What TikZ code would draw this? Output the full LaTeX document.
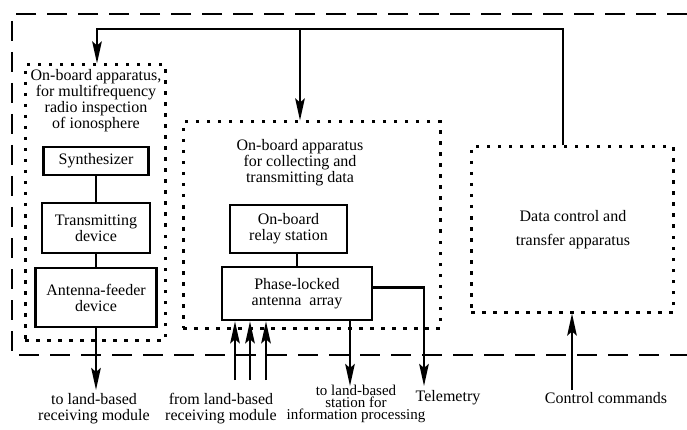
\documentclass[tikz,border=0pt]{standalone}
\usepackage{fontspec}
\setmainfont{Liberation Serif}
\usetikzlibrary{positioning, arrows.meta}

\begin{document}
\begin{tikzpicture}[x=1pt, y=-1pt, >={Stealth[length=22pt, width=9.5pt, inset=4pt]}]
    \tikzstyle{dev}=[draw, rectangle, line width=2.6pt, align=center, inner sep=0pt, font=\fontsize{16}{16}\selectfont];
    \tikzstyle{grp}=[draw, rectangle, line width=3pt, dash pattern=on 3.5pt off 7.5pt, inner sep=0pt];
    \tikzstyle{txt}=[align=center, inner sep=0pt, font=\fontsize{16}{16}\selectfont];
    \tikzstyle{lbl}=[align=center, inner sep=0pt, font=\fontsize{16}{16.5}\selectfont];
    \tikzstyle{wire}=[line width=2.6pt];
    \useasboundingbox (0,0) rectangle (687,430);

    % outer frame
    \draw[line width=2.8pt, dash pattern=on 20pt off 11pt] (687,14) -- (12,14) -- (12,355) -- (687,355);

    % groups
    \node[grp, minimum width=140pt, minimum height=275pt] (radio) at (95,202.5) {};
    \node[txt] (radiot) at (96,101) {On-board apparatus,\\for multifrequency\\radio inspection\\of ionosphere};
    \node[grp, minimum width=257pt, minimum height=206pt] (coll) at (311.5,225) {};
    \node[txt] (collt) at (300,163) {On-board apparatus\\for collecting and\\transmitting data};
    \node[grp, minimum width=202pt, minimum height=165pt] (ctrl) at (572,229.5) {};
    \node[txt] (ctrlt) at (573,230) {Data control and\\[8pt]transfer apparatus};

    % devices
    \node[dev, minimum width=105pt, minimum height=28pt] (synth) at (96,161) {Synthesizer};
    \node[dev, minimum width=108pt, minimum height=50pt] (trans) at (96,228) {Transmitting\\device};
    \node[dev, minimum width=121pt, minimum height=59pt] (feed) at (96,297.5) {Antenna-feeder\\device};
    \node[dev, minimum width=117pt, minimum height=48pt] (relay) at (288.5,229) {On-board\\relay station};
    \node[dev, minimum width=150pt, minimum height=53pt] (phase) at (297,293.5) {Phase-locked\\antenna~~array};

    % labels
    \node[lbl] (l1) at (94,408.5) {to land-based\\receiving module};
    \node[lbl] (l2) at (221,408.5) {from land-based\\receiving module};
    \node[lbl, font=\fontsize{15}{12}\selectfont] (l3) at (356,404) {to land-based\\station for\\information processing};
    \node[lbl] (l4) at (448,398) {Telemetry};
    \node[lbl] (l5) at (606,398) {Control commands};

    \coordinate (fb) at (563,29);
    \coordinate (br) at (300,29);
    \coordinate (o1) at (96,390);
    \coordinate (i1) at (235,380);
    \coordinate (i2) at (250,380);
    \coordinate (i3) at (266,380);
    \coordinate (o2) at (350,386);
    \coordinate (o3) at (424,386);
    \coordinate (cin) at (572,390);

    \path[wire]
    (synth) edge (trans)
    (trans) edge (feed)
    (phase.north) edge (phase.north |- relay.south);

    \draw[wire, ->] (ctrl.north -| fb) -- (fb) -| ([xshift=2pt]radio.north);
    \draw[wire, ->] (br) -- (br |- coll.north);
    \draw[wire, ->] (feed) -- (o1);
    \draw[wire, ->] (i1) -- (i1 |- phase.south);
    \draw[wire, ->] (i2) -- (i2 |- phase.south);
    \draw[wire, ->] (i3) -- (i3 |- phase.south);
    \draw[wire, ->] (o2 |- phase.south) -- (o2);
    \draw[wire, ->] ([yshift=6pt]phase.east) -| (o3);
    \draw[wire, ->] (cin) -- (ctrl.south -| cin);
\end{tikzpicture}
\end{document}
